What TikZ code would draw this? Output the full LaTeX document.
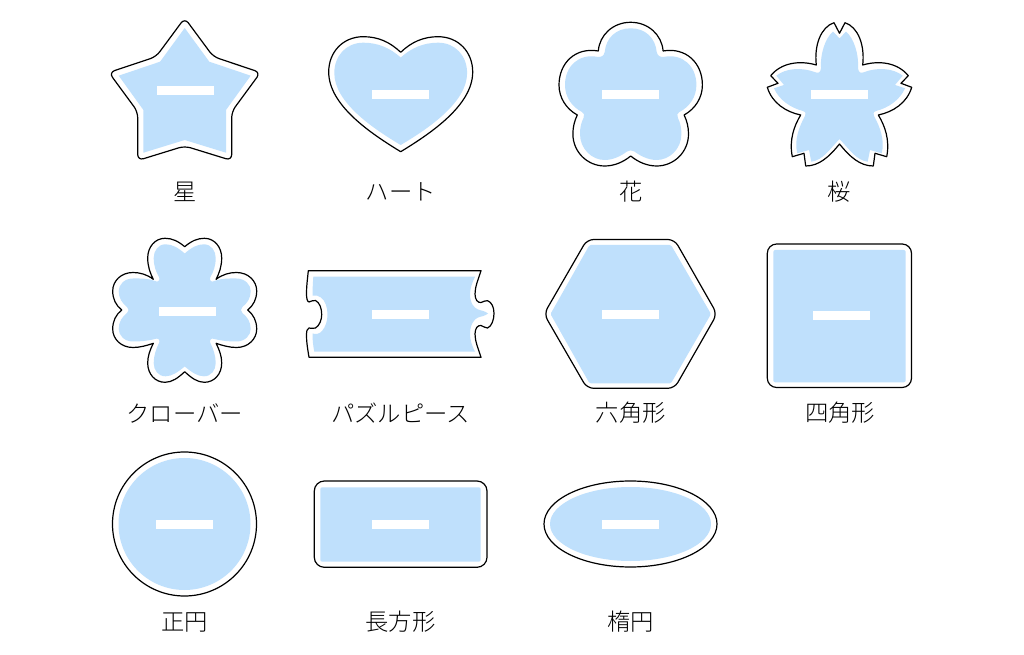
\documentclass[tikz,border=0pt]{standalone}
\usepackage{fontspec}
\setmainfont{Noto Sans CJK JP Light}
\definecolor{paleblue}{HTML}{BFE0FC}
\tikzset{
  outline/.style={draw=black,fill=white,line width=0.9pt,line join=round},
  core/.style={fill=paleblue},
  slot/.style={fill=white,minimum width=42.75pt,minimum height=6.75pt,inner sep=0pt,outer sep=0pt,draw=none},
  caption/.style={font=\fontsize{17.5pt}{20pt}\selectfont,inner sep=0pt,text=black}
}
\begin{document}
\begin{tikzpicture}[x=0.75pt,y=-0.75pt]
\useasboundingbox (0,0) rectangle (1024,655);
% star
\draw[outline,rounded corners=4.5pt] (184.7,18) -- (213.3,56.7) -- (260.5,72.5) -- (231.7,111.7) -- (231.7,160.5) -- (184.7,146) -- (137.7,160.5) -- (137.7,111.7) -- (108.9,72.5) -- (156.1,56.7) -- cycle;
\fill[core] (184.7,28) -- (209.3,61.7) -- (250.7,75.7) -- (226,110) -- (226,152.7) -- (184.7,140) -- (143.4,152.7) -- (143.4,110) -- (118.7,75.7) -- (160.1,61.7) -- cycle;
\node[slot] (s1) at (185.5,90.5) {};
\node[caption] (t1) at (184.7,192) {星};
% heart
\draw[outline] (400.7,52.3) .. controls (390,42) and (378,36.7) .. (363.3,36.7) .. controls (343,36.7) and (328.7,52) .. (328.7,72) .. controls (328.7,105) and (370,133) .. (400.7,151.7) .. controls (431.4,133) and (472.7,105) .. (472.7,72) .. controls (472.7,52) and (458.4,36.7) .. (438.1,36.7) .. controls (423.4,36.7) and (411.4,42) .. (400.7,52.3) -- cycle;
\fill[core] (400.7,57.5) .. controls (390,48) and (378,42.7) .. (363.3,42.7) .. controls (346,42.7) and (334.3,56) .. (334.3,73) .. controls (334.3,102) and (372,128) .. (400.7,145) .. controls (429.4,128) and (467.1,102) .. (467.1,73) .. controls (467.1,56) and (455.4,42.7) .. (438.1,42.7) .. controls (423.4,42.7) and (411.4,48) .. (400.7,57.5) -- cycle;
\node[slot] (s2) at (400.7,94.5) {};
\node[caption] (t2) at (400.7,192) {ハート};
% flower
\draw[outline] (598.3,51) .. controls (599.5,35) and (613,22.3) .. (630.7,22.3) .. controls (648.4,22.3) and (661.9,35) .. (663.1,51)
 .. controls (686,47) and (702.4,63) .. (702.4,85) .. controls (702.4,98) and (695,109) .. (684.1,115)
 .. controls (687,121) and (688.5,127) .. (688.5,134) .. controls (688.5,152) and (674,166) .. (656.7,166) .. controls (647,166) and (638,162) .. (630.7,156)
 .. controls (623.4,162) and (614.4,166) .. (604.7,166) .. controls (587.4,166) and (572.9,152) .. (572.9,134) .. controls (572.9,127) and (574.4,121) .. (577.3,115)
 .. controls (566.4,109) and (559,98) .. (559,85) .. controls (559,63) and (575.4,47) .. (598.3,51) -- cycle;
\fill[core] (604.7,52) .. controls (606,38) and (616,28.3) .. (630.7,28.3) .. controls (645.4,28.3) and (655.4,38) .. (656.7,52)
 .. controls (657.4,56) and (660.4,57.5) .. (664.4,56.8)
 .. controls (682.4,53.5) and (696.4,66) .. (696.4,85) .. controls (696.4,97) and (689.4,107) .. (679.4,112)
 .. controls (676.9,113) and (676.9,115) .. (677.9,118)
 .. controls (680.4,123) and (681.4,128) .. (681.4,134) .. controls (681.4,149) and (669.4,160) .. (656.7,160) .. controls (648.4,160) and (640.4,156) .. (634.4,151.5)
 .. controls (632.4,150) and (629,150) .. (627,151.5)
 .. controls (621,156) and (613,160) .. (604.7,160) .. controls (592,160) and (580,149) .. (580,134) .. controls (580,128) and (581,123) .. (583.5,118)
 .. controls (584.5,115) and (584.5,113) .. (582,112)
 .. controls (572,107) and (565,97) .. (565,85) .. controls (565,66) and (579,53.5) .. (597,56.8)
 .. controls (601,57.5) and (604,56) .. (604.7,52) -- cycle;
\node[slot] (s3) at (630.7,94.5) {};
\node[caption] (t3) at (630.7,192) {花};
% sakura
\draw[outline] (839.5,33.3) -- (845,22.7) .. controls (858,27) and (865,45) .. (862.7,65) .. controls (880,60) and (898,63) .. (908.3,75.7) -- (901,83.3) -- (911.7,87.3) .. controls (907,103) and (893,112) .. (878.3,115) .. controls (885,126) and (890,140) .. (886.7,156.7) -- (875,153.3) -- (873.3,166) .. controls (860,166) and (850,157) .. (839.5,144) .. controls (829,157) and (819,166) .. (805.7,166) -- (804,153.3) -- (792.3,156.7) .. controls (789,140) and (794,126) .. (800.7,115) .. controls (786,112) and (772,103) .. (767.3,87.3) -- (778,83.3) -- (770.7,75.7) .. controls (781,63) and (799,60) .. (816.3,65) .. controls (814,45) and (821,27) .. (834,22.7) -- cycle;
\fill[core] (839.5,38.3) -- (846,31.7) .. controls (854,38) and (859,55) .. (858,68) .. controls (858.5,72) and (860,73.5) .. (863,72.5) .. controls (877,67) and (893,68) .. (902.7,75.7) -- (895,85) -- (905,88.3) .. controls (900,100) and (888,108) .. (876,111) .. controls (873,112) and (873,114) .. (874,116) .. controls (880,127) and (885,140) .. (881.7,153.3) -- (870,150) -- (867.7,161.7) .. controls (856,160) and (850,150) .. (839.5,139) .. controls (829,150) and (823,160) .. (811.3,161.7) -- (809,150) -- (797.3,153.3) .. controls (794,140) and (799,127) .. (805,116) .. controls (806,114) and (806,112) .. (803,111) .. controls (791,108) and (779,100) .. (774,88.3) -- (784,85) -- (776.3,75.7) .. controls (786,68) and (802,67) .. (816,72.5) .. controls (819,73.5) and (820.5,72) .. (821,68) .. controls (820,55) and (825,38) .. (833,31.7) -- cycle;
\node[slot] (s4) at (839.3,94.5) {};
\node[caption] (t4) at (839.5,192) {桜};
% clover
\draw[outline] (184.7,246.7) .. controls (178,241) and (172,238.3) .. (165,238.3) .. controls (155,238.3) and (147.7,247) .. (147.7,258) .. controls (147.7,266) and (150,273) .. (153.3,279.3)
 .. controls (147,274.5) and (140,272.5) .. (133,272.5) .. controls (121,272.5) and (112.7,281) .. (112.7,291) .. controls (112.7,299) and (116,305.5) .. (121.7,310)
 .. controls (116,314.5) and (112.7,321) .. (112.7,329) .. controls (112.7,339) and (121,347.5) .. (133,347.5) .. controls (140,347.5) and (147,345.5) .. (153.3,343.3)
 .. controls (150,350) and (147.7,356) .. (147.7,363) .. controls (147.7,374) and (155,382.3) .. (165,382.3) .. controls (172,382.3) and (178,378) .. (184.7,371.7)
 .. controls (191.4,378) and (197.4,382.3) .. (204.4,382.3) .. controls (214.4,382.3) and (221.7,374) .. (221.7,363) .. controls (221.7,356) and (219.4,350) .. (216.1,343.3)
 .. controls (222.4,345.5) and (229.4,347.5) .. (236.4,347.5) .. controls (248.4,347.5) and (256.7,339) .. (256.7,329) .. controls (256.7,321) and (253.4,314.5) .. (247.7,310)
 .. controls (253.4,305.5) and (256.7,299) .. (256.7,291) .. controls (256.7,281) and (248.4,272.5) .. (236.4,272.5) .. controls (229.4,272.5) and (222.4,274.5) .. (216.1,279.3)
 .. controls (219.4,273) and (221.7,266) .. (221.7,258) .. controls (221.7,247) and (214.4,238.3) .. (204.4,238.3) .. controls (197.4,238.3) and (191.4,241) .. (184.7,246.7) -- cycle;
\fill[core] (184.7,253.5) .. controls (178,247.5) and (172,244.3) .. (165.5,244.3) .. controls (158,244.3) and (153.7,251) .. (153.7,258) .. controls (153.7,266) and (156,272) .. (159,277) .. controls (160.5,280) and (158,283) .. (155,281) .. controls (147,278) and (140,278.5) .. (133,278.5) .. controls (124,278.5) and (118.7,285) .. (118.7,291) .. controls (118.7,298) and (122,303) .. (127,307) .. controls (129,309) and (129,311) .. (127,313) .. controls (122,317) and (118.7,322) .. (118.7,329) .. controls (118.7,335) and (124,341.5) .. (133,341.5) .. controls (140,341.5) and (147,341) .. (155,339) .. controls (158,337.5) and (160.5,340) .. (159,343) .. controls (156,349) and (153.7,356) .. (153.7,363) .. controls (153.7,370) and (158,376.3) .. (165.5,376.3) .. controls (172,376.3) and (178,372) .. (184.7,366.5)
 .. controls (191.4,372) and (197.4,376.3) .. (203.9,376.3) .. controls (211.4,376.3) and (215.7,370) .. (215.7,363) .. controls (215.7,356) and (213.4,349) .. (210.4,343) .. controls (208.9,340) and (211.4,337.5) .. (214.4,339) .. controls (222.4,341) and (229.4,341.5) .. (236.4,341.5) .. controls (245.4,341.5) and (250.7,335) .. (250.7,329) .. controls (250.7,322) and (247.4,317) .. (242.4,313) .. controls (240.4,311) and (240.4,309) .. (242.4,307) .. controls (247.4,303) and (250.7,298) .. (250.7,291) .. controls (250.7,285) and (245.4,278.5) .. (236.4,278.5) .. controls (229.4,278.5) and (222.4,278) .. (214.4,281) .. controls (211.4,283) and (208.9,280) .. (210.4,277) .. controls (213.4,272) and (215.7,266) .. (215.7,258) .. controls (215.7,251) and (211.4,244.3) .. (203.9,244.3) .. controls (197.4,244.3) and (191.4,247.5) .. (184.7,253.5) -- cycle;
\node[slot] (s5) at (187,312) {};
\node[caption] (t5) at (184.7,413) {クローバー};
% puzzle
\draw[outline] (308.3,270.7) -- (481,270.7) .. controls (478,280) and (475,287) .. (475,294) .. controls (475,300) and (478,303) .. (481,302.5) .. controls (484,302) and (485,300) .. (487.5,300.7) .. controls (491.5,302) and (494,307) .. (494,313.5) .. controls (494,320) and (491.5,326.5) .. (487.5,328) .. controls (485,328.5) and (484,326) .. (481,325.5) .. controls (478,325) and (475,328) .. (475,334) .. controls (475,341) and (478,348) .. (481,357.3) -- (309,357.3) .. controls (307.5,348) and (306.5,342) .. (306.5,336) .. controls (306.5,331) and (307,328.5) .. (309,328) .. controls (311,327.5) and (313,329.5) .. (315.5,328) .. controls (319.5,325.5) and (321.7,320) .. (321.7,314.5) .. controls (321.7,308) and (319.5,302.5) .. (315.5,300.5) .. controls (313,299.5) and (311,302) .. (309,302) .. controls (307,301.5) and (306.5,298) .. (306.5,293) .. controls (306.5,286) and (307.5,279) .. (308.3,270.7) -- cycle;
\fill[core] (313.3,276.7) -- (475,276.7) .. controls (472,283) and (470,289) .. (470,294) .. controls (470,303) and (474,308) .. (478,309.5) .. controls (482,311) and (484,310.5) .. (488,313.5) .. controls (484,316.5) and (482,316) .. (478,317.5) .. controls (474,319) and (470,325) .. (470,334) .. controls (470,340) and (472,346) .. (475,351.7) -- (314.3,351.7) .. controls (313,345) and (312.5,340) .. (312.5,333.5) .. controls (316,334.5) and (319.5,334) .. (322,331) .. controls (325.5,327) and (327.5,321) .. (327.5,314.5) .. controls (327.5,307) and (325,300.5) .. (321,297.5) .. controls (318.5,295.5) and (315.5,295) .. (312.5,295.5) .. controls (312.5,288) and (313,282) .. (313.3,276.7) -- cycle;
\node[slot] (s6) at (400.5,314.5) {};
\node[caption] (t6) at (400.5,413) {パズルピース};
% hexagon
\draw[outline,rounded corners=5pt] (544,314) -- (587,239.5) -- (674.5,239.5) -- (717,314) -- (674.5,388.3) -- (587,388.3) -- cycle;
\fill[core,rounded corners=1pt] (550.5,314) -- (589.5,245) -- (671,245) -- (711,314) -- (671,383.3) -- (589.5,383.3) -- cycle;
\node[slot] (s7) at (630.7,314.5) {};
\node[caption] (t7) at (630.7,413) {六角形};
% square
\draw[outline,rounded corners=7pt] (767.3,244) rectangle (911.5,387.5);
\fill[core,rounded corners=1.5pt] (773.3,250) rectangle (905.7,382.3);
\node[slot] (s8) at (841.2,315.7) {};
\node[caption] (t8) at (840,413) {四角形};
% circle
\draw[outline] (184.5,524) circle[radius=72];
\fill[core] (184.5,524) circle[radius=66];
\node[slot] (s9) at (184.7,524.5) {};
\node[caption] (t9) at (184.7,622) {正円};
% rectangle
\draw[outline,rounded corners=7.5pt] (314.3,481) rectangle (487,567.3);
\fill[core,rounded corners=1.5pt] (320.3,487.3) rectangle (480.7,561.7);
\node[slot] (s10) at (400.5,524.5) {};
\node[caption] (t10) at (400.5,622) {長方形};
% ellipse
\draw[outline] (630.5,524) ellipse[x radius=86.5,y radius=43];
\fill[core] (630.5,524) ellipse[x radius=80.5,y radius=37];
\node[slot] (s11) at (630.7,524.5) {};
\node[caption] (t11) at (630.7,622) {楕円};
\end{tikzpicture}
\end{document}
